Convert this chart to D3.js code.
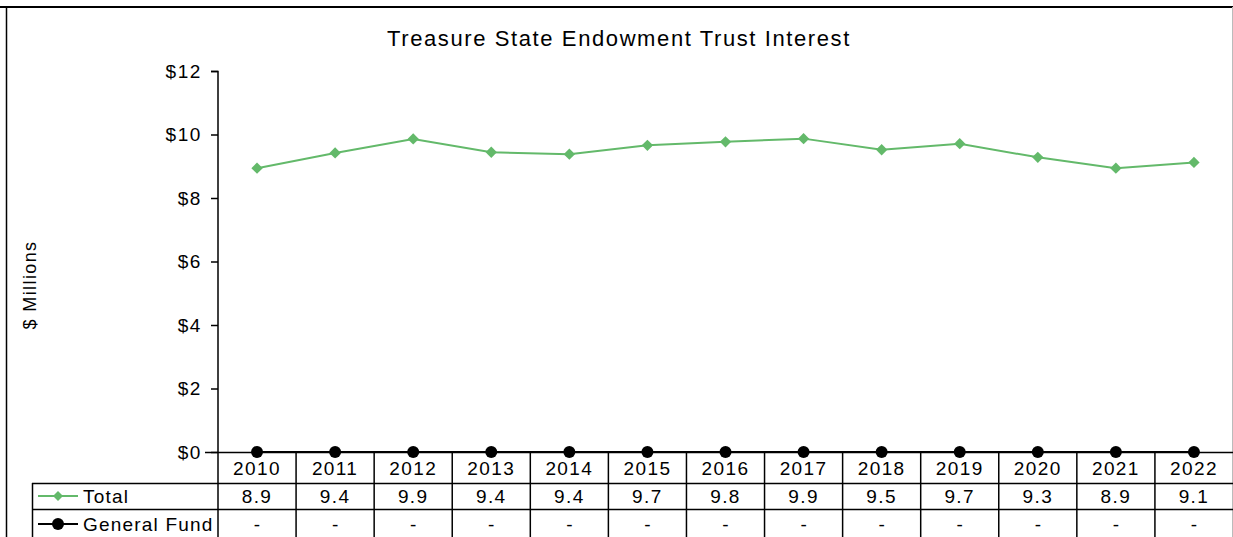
<!DOCTYPE html>
<html><head><meta charset="utf-8">
<script src="https://cdn.jsdelivr.net/npm/d3@7"></script>
<style>
html,body{margin:0;padding:0;background:#fff;}
svg{display:block;font-family:"Liberation Sans",Arial,sans-serif;}
</style></head>
<body>
<svg id="c" width="1233" height="537"></svg>
<script>
const years = ["2010","2011","2012","2013","2014","2015","2016","2017","2018","2019","2020","2021","2022"];
const totalValues = [8.94, 9.42, 9.86, 9.44, 9.38, 9.66, 9.77, 9.87, 9.52, 9.71, 9.28, 8.94, 9.12];
const generalFundValues = [0,0,0,0,0,0,0,0,0,0,0,0,0];
const yTicks = [0,2,4,6,8,10,12];
const seriesNames = ["Total","General Fund"];
const titleText = "Treasure State Endowment Trust Interest";
const yLabel = "$ Millions";

const svg = d3.select("#c");
const green = "#63b96a";

const x = d3.scaleBand().domain(years).range([218, 1233]);
const y = d3.scaleLinear().domain([0,12]).range([452, 71]);

// frame
svg.append("line").attr("x1",0).attr("x2",1233).attr("y1",7).attr("y2",7).attr("stroke","#000").attr("stroke-width",2);
svg.append("line").attr("x1",6.5).attr("x2",6.5).attr("y1",7).attr("y2",537).attr("stroke","#000").attr("stroke-width",1.5);
svg.append("line").attr("x1",1232.5).attr("x2",1232.5).attr("y1",7).attr("y2",537).attr("stroke","#bbb").attr("stroke-width",1);

// title
svg.append("text").attr("x",619).attr("y",46).attr("text-anchor","middle")
  .attr("font-size",22).style("letter-spacing","1.6px").text(titleText);

// y axis
const yAxis = d3.axisLeft(y).tickValues(yTicks).tickFormat(d => "$" + d).tickSize(7).tickPadding(9);
const ya = svg.append("g").attr("transform","translate(218,0)").call(yAxis);
ya.select(".domain").attr("stroke","#000").attr("stroke-width",1.5).attr("d","M-7,71.5H0V452");
ya.selectAll(".tick line").attr("stroke","#000").attr("stroke-width",1.5);
ya.selectAll(".tick text").attr("font-size",19).attr("font-family","Liberation Sans, Arial, sans-serif").attr("fill","#000").style("letter-spacing","1.6px");

// y label
svg.append("text").attr("transform","translate(36,285) rotate(-90)").attr("text-anchor","middle")
  .attr("font-size",18).style("letter-spacing","1.4px").text(yLabel);

// x axis line (baseline)
svg.append("line").attr("x1",205).attr("x2",1233).attr("y1",452.5).attr("y2",452.5).attr("stroke","#000").attr("stroke-width",1.5);

// table
const tableLeft = 32;
svg.append("line").attr("x1",tableLeft).attr("x2",1233).attr("y1",483.5).attr("y2",483.5).attr("stroke","#000").attr("stroke-width",1.5);
svg.append("line").attr("x1",tableLeft).attr("x2",1233).attr("y1",509.5).attr("y2",509.5).attr("stroke","#000").attr("stroke-width",1.5);
svg.append("line").attr("x1",tableLeft+0.5).attr("x2",tableLeft+0.5).attr("y1",483).attr("y2",537).attr("stroke","#000").attr("stroke-width",1.5);
years.forEach(yr => {
  const x0 = x(yr);
  svg.append("line").attr("x1",x0).attr("x2",x0).attr("y1",452).attr("y2",537).attr("stroke","#000").attr("stroke-width",1.5);
});
// year labels
svg.append("g").selectAll("text").data(years).join("text")
  .attr("x", d => x(d) + x.bandwidth()/2).attr("y", 474.5).attr("text-anchor","middle")
  .attr("font-size",19).style("letter-spacing","1.4px").text(d => d);
// total values
svg.append("g").selectAll("text").data(totalValues).join("text")
  .attr("x", (d,i) => x(years[i]) + x.bandwidth()/2).attr("y", 503).attr("text-anchor","middle")
  .attr("font-size",19).style("letter-spacing","1.4px").text(d => d3.format(".1f")(d));
// general fund values
svg.append("g").selectAll("text").data(generalFundValues).join("text")
  .attr("x", (d,i) => x(years[i]) + x.bandwidth()/2).attr("y", 531).attr("text-anchor","middle")
  .attr("font-size",19).text(d => d === 0 ? "-" : d3.format(".1f")(d));

// legend keys in table
svg.append("line").attr("x1",38).attr("x2",78).attr("y1",496).attr("y2",496).attr("stroke",green).attr("stroke-width",2);
svg.append("path").attr("d", d3.symbol().type(d3.symbolSquare).size(50)()).attr("transform","translate(58,496) rotate(45)").attr("fill",green);
svg.append("text").attr("x",83).attr("y",503).attr("font-size",19).style("letter-spacing","1.2px").text(seriesNames[0]);
svg.append("line").attr("x1",38).attr("x2",78).attr("y1",524).attr("y2",524).attr("stroke","#000").attr("stroke-width",2);
svg.append("circle").attr("cx",58).attr("cy",524).attr("r",6).attr("fill","#000");
svg.append("text").attr("x",83).attr("y",531).attr("font-size",19).style("letter-spacing","1.2px").text(seriesNames[1]);

// lines
const cx = d => x(d) + x.bandwidth()/2;
const line = d3.line().x((d,i) => cx(years[i])).y(d => y(d));
svg.append("path").datum(generalFundValues).attr("d", line).attr("fill","none").attr("stroke","#000").attr("stroke-width",2);
svg.append("g").selectAll("circle").data(generalFundValues).join("circle")
  .attr("cx",(d,i)=>cx(years[i])).attr("cy",d=>y(d)).attr("r",6).attr("fill","#000");

svg.append("path").datum(totalValues).attr("d", line).attr("fill","none").attr("stroke",green).attr("stroke-width",2);
svg.append("g").selectAll("path").data(totalValues).join("path")
  .attr("d", d3.symbol().type(d3.symbolSquare).size(64)())
  .attr("transform",(d,i)=>`translate(${cx(years[i])},${y(d)}) rotate(45)`).attr("fill",green);
</script>
</body></html>
